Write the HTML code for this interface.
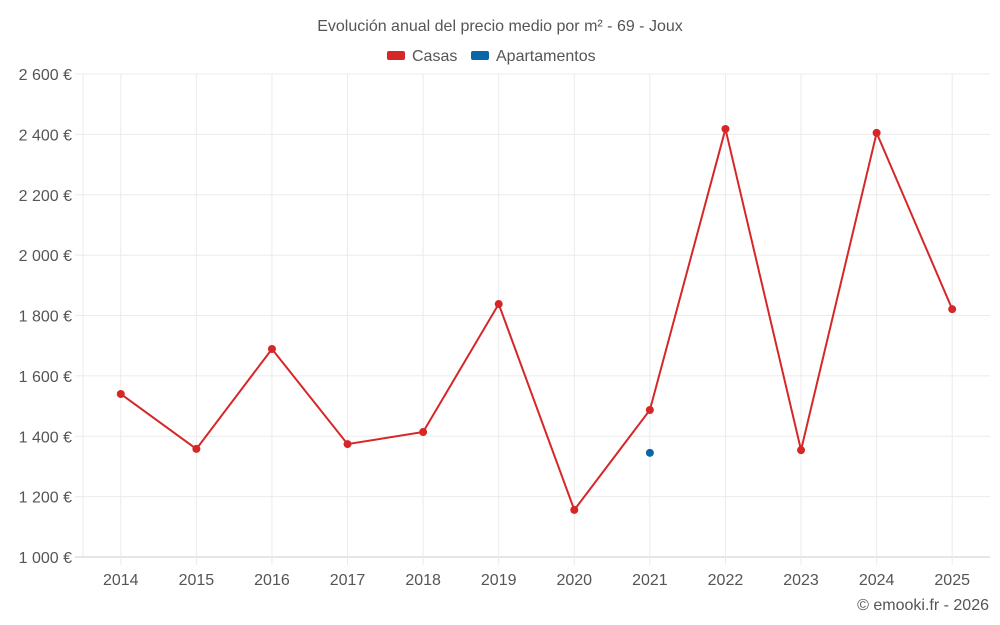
<!DOCTYPE html>
<html><head><meta charset="utf-8"><style>
body{margin:0;background:#fff;font-family:"Liberation Sans",sans-serif;}
svg{display:block}
</style></head><body>
<svg id="chart" width="1000" height="625">
<text x="500" y="31" text-anchor="middle" font-size="16" fill="#555">Evolución anual del precio medio por m² - 69 - Joux</text>
<g>
<rect x="387" y="51" width="18" height="9" rx="2" fill="#d62728"/>
<text x="412" y="61" font-size="16" fill="#555">Casas</text>
<rect x="471" y="51" width="18" height="9" rx="2" fill="#0b66a8"/>
<text x="496" y="61" font-size="16" fill="#555">Apartamentos</text>
</g>
<g id="grid"></g><g id="axes"></g><g id="marks"></g>
<text x="989" y="610" text-anchor="end" font-size="16" fill="#555">© emooki.fr - 2026</text>
</svg>
<script>
const years=["2014","2015","2016","2017","2018","2019","2020","2021","2022","2023","2024","2025"];
const casas=[1540,1358,1689,1374,1414,1838,1156,1487,2418,1354,2405,1821];
const apartamentos=[null,null,null,null,null,null,null,1345,null,null,null,null];
const yTicks=[1000,1200,1400,1600,1800,2000,2200,2400,2600];
const yTickLabels=["1 000 €","1 200 €","1 400 €","1 600 €","1 800 €","2 000 €","2 200 €","2 400 €","2 600 €"];
const L=83,R=990,T=74,B=557,yMin=1000,yMax=2600;
const bw=(R-L)/years.length;
const xs=i=>L+bw*(i+0.5);
const ys=v=>B-(v-yMin)/(yMax-yMin)*(B-T);
const NS="http://www.w3.org/2000/svg";
function mk(tag,attrs,parent){const e=document.createElementNS(NS,tag);for(const k in attrs)e.setAttribute(k,attrs[k]);parent.appendChild(e);return e;}
const grid=document.getElementById('grid'),axes=document.getElementById('axes'),marks=document.getElementById('marks');
const ax=mk('line',{x1:L,x2:L,y1:T,y2:B,stroke:'#ebebeb','stroke-width':1},grid);


yTicks.forEach((v,i)=>{
 const l=mk('line',{x1:L-8,x2:R,y1:ys(v),y2:ys(v),stroke:i===0?'#ccc':'#ebebeb','stroke-width':1},grid);
 
 
 const t=mk('text',{x:72,y:ys(v)+6,'text-anchor':'end','font-size':16,fill:'#555'},axes);
 t.textContent=yTickLabels[i];
 
 
});
years.forEach((y,i)=>{
 const l=mk('line',{x1:xs(i),x2:xs(i),y1:T,y2:B+8,stroke:'#ebebeb','stroke-width':1},grid);
 
 
 const t=mk('text',{x:xs(i),y:585,'text-anchor':'middle','font-size':16,fill:'#555'},axes);
 t.textContent=y;
 
 
});
const pts=casas.map((v,i)=>xs(i)+','+ys(v)).join(' ');
const pl=mk('polyline',{points:pts,fill:'none',stroke:'#d62728','stroke-width':2},marks);


casas.forEach((v,i)=>{
 const c=mk('circle',{cx:xs(i),cy:ys(v),r:4,fill:'#d62728'},marks);
 
 
});
apartamentos.forEach((v,i)=>{
 if(v==null)return;
 const c=mk('circle',{cx:xs(i),cy:ys(v),r:4,fill:'#0b66a8'},marks);
 
 
});
</script>
</body></html>
